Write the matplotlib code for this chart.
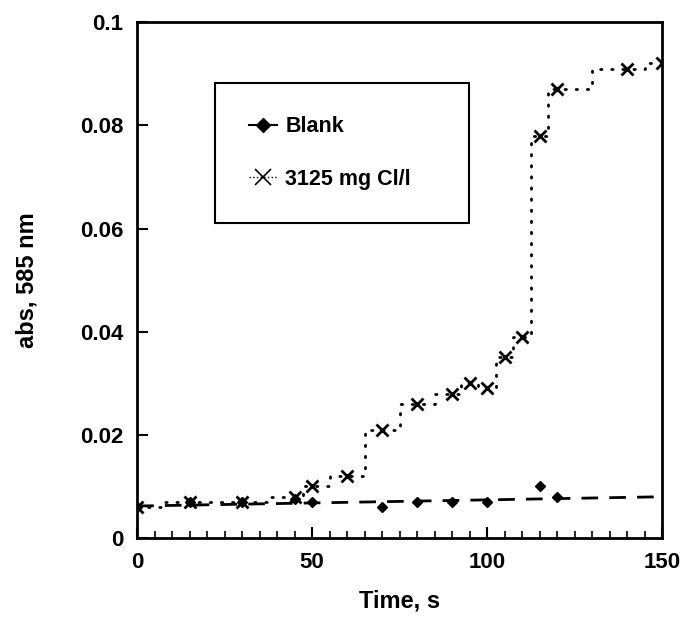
import numpy as np
import matplotlib.pyplot as plt
from matplotlib.ticker import MultipleLocator

# data
time_cl = [0, 15, 30, 45, 50, 60, 70, 80, 90, 95, 100, 105, 110, 115, 120, 140, 150]
abs_cl = [0.006, 0.007, 0.007, 0.008, 0.010, 0.012, 0.021, 0.026, 0.028, 0.030,
          0.029, 0.035, 0.039, 0.078, 0.087, 0.091, 0.092]

time_blank = [0, 15, 30, 45, 50, 70, 80, 90, 100, 115, 120]
abs_blank = [0.006, 0.007, 0.007, 0.0075, 0.007, 0.006, 0.007, 0.007, 0.007, 0.010, 0.008]

# blank trend line end points
trend_x = [0, 150]
trend_y = [0.0062, 0.0080]

plt.rcParams['font.family'] = ['Liberation Sans', 'DejaVu Sans']
plt.rcParams['font.weight'] = 'bold'
plt.rcParams['axes.labelweight'] = 'bold'

fig = plt.figure(figsize=(6.89, 6.17), dpi=100)
ax = fig.add_axes([0.199, 0.128, 0.762, 0.836])

ax.plot(trend_x, trend_y, color='black', lw=2, ls=(0, (6, 4)))
ax.plot(time_blank, abs_blank, ls='none', marker='D', ms=5, color='black')
ax.plot(time_cl, abs_cl, color='black', lw=2, ls=(0, (0.5, 3.5)),
        drawstyle='steps-mid', dash_capstyle='round')
ax.plot(time_cl, abs_cl, ls='none', marker='x', ms=8, mew=2, color='black')

# legend handles
h1, = ax.plot([], [], color='black', lw=1.5, ls='-', marker='D', ms=7)
h2, = ax.plot([], [], color='black', lw=1, ls=':', marker='x', ms=11, mew=1.2)
leg = ax.legend([h1, h2], ['Blank', '3125 mg Cl/l'], loc='upper left',
                bbox_to_anchor=(0.149, 0.622, 0.483, 0.26), mode='expand',
                fancybox=False, framealpha=1,
                edgecolor='black', fontsize=15.5, handlelength=1.3,
                handletextpad=0.4, borderpad=1.55, labelspacing=1.45,
                borderaxespad=0)
leg.get_frame().set_linewidth(1.5)

ax.set_xlim(0, 150)
ax.set_ylim(0, 0.1)
ax.xaxis.set_major_locator(MultipleLocator(50))
ax.xaxis.set_minor_locator(MultipleLocator(5))
ax.set_yticks([0, 0.02, 0.04, 0.06, 0.08, 0.1])
ax.set_yticklabels(['0', '0.02', '0.04', '0.06', '0.08', '0.1'])
ax.tick_params(axis='both', direction='in', labelsize=16, width=1.5, length=8, pad=10)
ax.tick_params(axis='x', which='minor', direction='in', length=5, width=1.2)
ax.tick_params(top=False, right=False)
for s in ax.spines.values():
    s.set_linewidth(2)

ax.set_xlabel('Time, s', fontsize=17, labelpad=12)
ax.set_ylabel('abs, 585 nm', fontsize=17, labelpad=30)

fig.savefig('out.png', dpi=100)
